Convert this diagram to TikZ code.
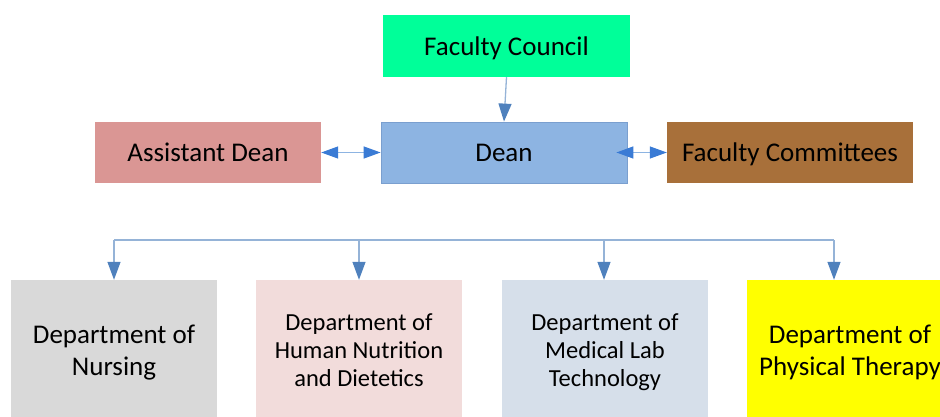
\documentclass[tikz,border=0pt]{standalone}
\usepackage{fontspec}
\setmainfont{Carlito}
\usepackage{tikz}
\usetikzlibrary{arrows.meta,positioning,shapes,calc}
\definecolor{councilgreen}{HTML}{00FF99}
\definecolor{deanblue}{HTML}{8DB4E2}
\definecolor{deanedge}{HTML}{7A9FCF}
\definecolor{asstred}{HTML}{DA9694}
\definecolor{commbrown}{HTML}{A8703A}
\definecolor{nursegray}{HTML}{D9D9D9}
\definecolor{nutripink}{HTML}{F2DCDB}
\definecolor{labblue}{HTML}{D6DFEA}
\definecolor{physyellow}{HTML}{FFFF00}
\definecolor{linelight}{HTML}{95B3D7}
\definecolor{headdark}{HTML}{4F81BD}
\definecolor{headbright}{HTML}{3A7BD5}

\begin{document}
\begin{tikzpicture}[x = 1pt, y = -1pt,
  box/.style = {inner sep = 0, align = center, text depth = 0pt, font = \fontsize{27}{32}\selectfont},
  dept/.style = {box, minimum width = 206pt, minimum height = 140pt},
  small/.style = {font = \fontsize{24.5}{28.3}\selectfont},
  drop/.style = {draw = linelight, line width = 1.3pt,
    -{Triangle[length = 18pt, width = 13pt, color = headdark]}},
  twoway/.style = {draw = deanblue, line width = 1.3pt,
    {Triangle[length = 17pt, width = 12pt, color = headbright]}-{Triangle[length = 17pt, width = 12pt, color = headbright]}}]
\path[use as bounding box, clip] (0, 0) rectangle (940, 417);

\node[box, fill = councilgreen, minimum width = 247pt, minimum height = 62pt] (council) at (506.5, 46) {Faculty Council};
\node[box, fill = deanblue, draw = deanedge, line width = .8pt, minimum width = 246pt, minimum height = 61pt] (dean) at (504, 152.5) {Dean};
\node[box, fill = asstred, minimum width = 226pt, minimum height = 61pt] (asst) at (208, 152.5) {Assistant Dean};
\node[box, fill = commbrown, minimum width = 246pt, minimum height = 61pt] (comm) at (790, 152.5) {Faculty Committees};

\node[dept, fill = nursegray] (nursing) at (114, 350) {Department of\\Nursing};
\node[dept, small, fill = nutripink] (nutrition) at (359, 350) {Department of\\Human Nutrition\\and Dietetics};
\node[dept, small, fill = labblue] (medlab) at (605, 350) {Department of\\Medical Lab\\Technology};
\node[dept, fill = physyellow] (physio) at (850, 350) {Department of\\Physical Therapy};

\draw[drop] (council.south) -- (dean.north);
\draw[twoway] (asst.east) -- (dean.west);
\draw[twoway] ($(dean.east) + (-11, 0)$) -- (comm.west);

\coordinate (busl) at (114, 240);
\coordinate (busr) at (834, 240);
\draw[linelight, line width = 1.3pt] (busl) -- (busr);
\draw[drop] (busl) -- (nursing.north);
\draw[drop] (nutrition.north |- busl) -- (nutrition.north);
\draw[drop] ($(medlab.north |- busl) + (-1, 0)$) -- ($(medlab.north) + (-1, 0)$);
\draw[drop] (busr) -- (busr |- physio.north);

\end{tikzpicture}
\end{document}
